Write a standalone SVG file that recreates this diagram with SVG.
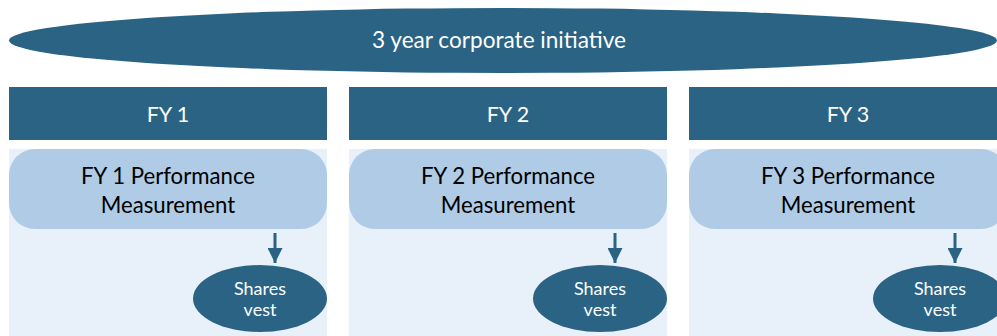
<svg xmlns="http://www.w3.org/2000/svg" width="997" height="336" viewBox="0 0 997 336">
<defs>
<style>
.dark{fill:#2A6384}
.panel{fill:#E8F0FA}
.meas{fill:#AFCBE5}
.wt{fill:#FFFFFF;font-family:Lato,"Open Sans",sans-serif;text-anchor:middle}
.bt{fill:#000000;font-family:Lato,"Open Sans",sans-serif;text-anchor:middle;font-size:22.2px}
.sv{font-size:18px}
.fy{font-size:21.5px}
.conn{stroke:#2A6384;stroke-width:3;fill:none}
</style>
<marker id="ah" markerWidth="6" markerHeight="5" refX="5" refY="2.5" orient="auto" markerUnits="strokeWidth">
<path d="M0,0 L5,2.5 L0,5 Z" fill="#2A6384"/>
</marker>
</defs>
<g id="initiative">
<ellipse class="dark" cx="503" cy="40.5" rx="494" ry="32.5"/>
<text class="wt" x="499" y="48" font-size="22.6">3 year corporate initiative</text>
</g>
<g id="fy1">
<rect class="dark" x="9" y="87" width="318" height="53"/>
<text class="wt fy" x="168" y="122">FY 1</text>
<rect class="panel" x="9" y="149" width="318" height="187"/>
</g>
<g id="fy2">
<rect class="dark" x="349" y="87" width="318" height="53"/>
<text class="wt fy" x="508" y="122">FY 2</text>
<rect class="panel" x="349" y="149" width="318" height="187"/>
</g>
<g id="fy3">
<rect class="dark" x="689" y="87" width="318" height="53"/>
<text class="wt fy" x="848" y="122">FY 3</text>
<rect class="panel" x="689" y="149" width="318" height="187"/>
</g>
<g id="meas1">
<rect class="meas" x="9" y="149" width="318" height="80" rx="26"/>
<text class="bt" x="168" y="184">FY 1 Performance<tspan x="168" dy="29">Measurement</tspan></text>
</g>
<g id="meas2">
<rect class="meas" x="349" y="149" width="318" height="80" rx="26"/>
<text class="bt" x="508" y="184">FY 2 Performance<tspan x="508" dy="29">Measurement</tspan></text>
</g>
<g id="meas3">
<rect class="meas" x="689" y="149" width="318" height="80" rx="26"/>
<text class="bt" x="848" y="184">FY 3 Performance<tspan x="848" dy="29">Measurement</tspan></text>
</g>
<g id="vest1">
<ellipse class="dark" cx="260" cy="298.5" rx="67" ry="33.5"/>
<text class="wt sv" x="260" y="294.5">Shares<tspan x="260" dy="21.5">vest</tspan></text>
</g>
<g id="vest2">
<ellipse class="dark" cx="600" cy="298.5" rx="67" ry="33.5"/>
<text class="wt sv" x="600" y="294.5">Shares<tspan x="600" dy="21.5">vest</tspan></text>
</g>
<g id="vest3">
<ellipse class="dark" cx="940" cy="298.5" rx="67" ry="33.5"/>
<text class="wt sv" x="940" y="294.5">Shares<tspan x="940" dy="21.5">vest</tspan></text>
</g>
<g id="connectors">
<line class="conn" x1="275" y1="233" x2="275" y2="263" marker-end="url(#ah)"/>
<line class="conn" x1="615" y1="233" x2="615" y2="263" marker-end="url(#ah)"/>
<line class="conn" x1="955" y1="233" x2="955" y2="263" marker-end="url(#ah)"/>
</g>
</svg>
